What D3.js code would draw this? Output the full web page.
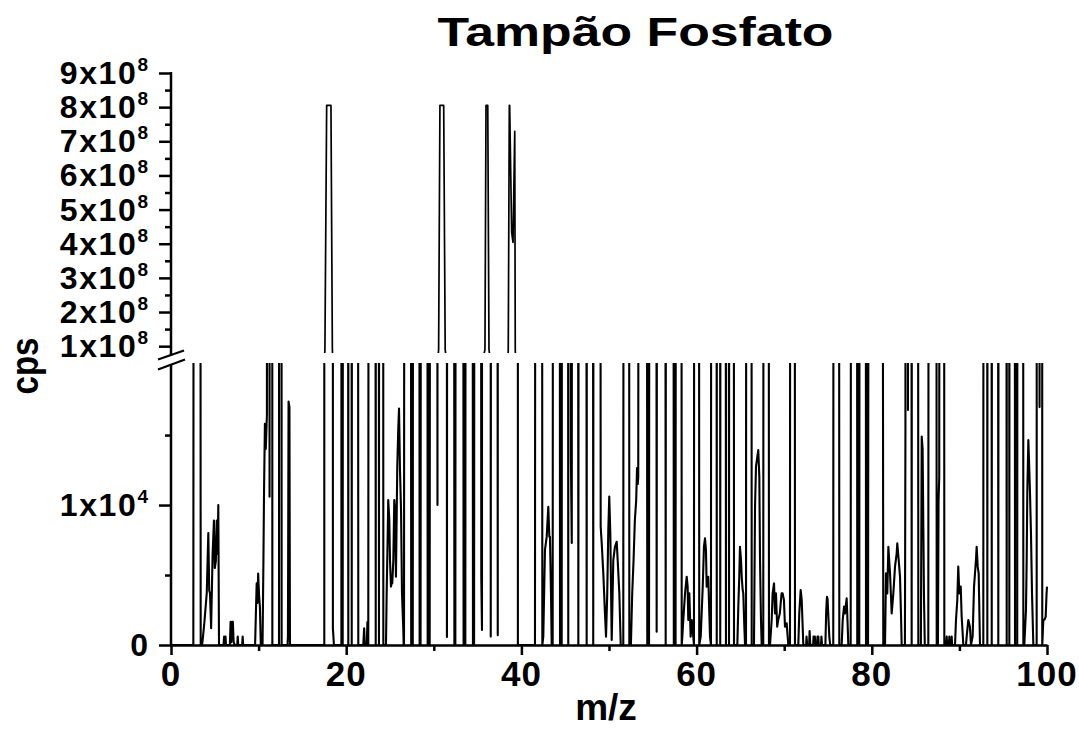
<!DOCTYPE html>
<html><head><meta charset="utf-8">
<script src="https://cdn.jsdelivr.net/npm/d3@7"></script>
<style>
body{margin:0;background:#fff}
svg{display:block}
text{font-family:"Liberation Sans",Arial,Helvetica,sans-serif;font-weight:bold;fill:#000}
</style></head>
<body><svg id="c" width="1079" height="729"></svg>
<script>
// ---- data ----
const xMajorTicks = [0, 20, 40, 60, 80, 100];
const xMinorTicks = [10, 30, 50, 70, 90];
const topMajorTicks = [1, 2, 3, 4, 5, 6, 7, 8, 9];          // x10^8
const topMinorTicks = [1.5, 2.5, 3.5, 4.5, 5.5, 6.5, 7.5, 8.5]; // x10^8
const bottomMajorTicks = [0, 10000];
const bottomMinorTicks = [5000, 15000];
const titleText = "Tampão Fosfato";
const xLabel = "m/z";
const yLabel = "cps";

// spectrum trace: [m/z, cps]
const spectrum = [
[0,0],[2.5,0],
[2.55,0],[2.97,500000],[3.39,0],
[3.55,0],[3.62,400],[3.8,1550],[4.08,3700],[4.26,8000],[4.36,3900],[4.45,3700],[4.58,1200],[4.75,6500],[4.9,8900],[5.0,5500],[5.12,6000],[5.22,8900],[5.32,6500],[5.4,10000],[5.48,0],
[6.0,0],[6.06,600],[6.12,0],[6.22,600],[6.28,0],[6.72,0],[6.8,1650],[6.88,200],[6.98,1650],[7.06,1650],[7.15,200],[7.28,0],[7.56,0],[7.62,600],[7.68,0],[8.12,0],[8.18,600],[8.24,0],
[9.6,0],[9.7,2500],[9.78,4400],[9.86,3000],[9.95,5100],[10.05,3600],[10.15,2700],[10.25,0],
[10.45,0],[10.55,6000],[10.62,11000],[10.72,15800],[10.82,14000],[10.95,16500],[11.05,500000],[11.25,10600],[11.4,500000],[11.57,0],
[12.33,0],[12.48,500000],[12.63,0],
[13.3,0],[13.35,600],[13.42,17400],[13.52,17000],[13.58,0],
[17.5,0],[17.57,90000000],[17.77,805000000],[18.26,805000000],[18.42,90000000],[18.48,1190],[18.6,0],
[19.45,0],[19.52,500000],[19.6,0],[19.9,500000],[20.24,0],[20.43,500000],[20.63,0],[21.0,500000],[21.38,0],
[21.95,0],[22.05,1200],[22.12,0],[22.35,0],[22.42,1640],[22.48,0],
[22.52,0],[22.95,500000],[23.37,0],[23.55,500000],[23.74,0],[24.0,500000],[24.24,0],
[24.54,0],[24.62,3690],[24.74,7980],[24.8,10360],[24.92,8930],[25.0,6070],[25.11,4170],[25.19,4410],[25.26,4410],[25.38,6070],[25.49,10360],[25.57,9640],[25.68,4880],[25.83,12740],[25.95,15600],[26.03,16900],[26.14,12500],[26.26,9640],[26.37,3690],[26.52,1070],[26.56,0],
[26.6,0],[27.0,500000],[27.42,0],[27.5,500000],[27.6,0],[28.0,500000],[28.38,0],[28.44,500000],[28.49,0],[28.9,500000],[29.3,0],[29.42,500000],[29.53,0],[30.0,500000],
[30.42,10000],[30.55,90000000],[30.7,805000000],[31.13,805000000],[31.3,90000000],[31.5,570],
[31.9,500000],[32.35,0],[32.4,500000],[32.46,0],[32.9,500000],[33.4,0],[33.5,500000],[33.6,0],[34.0,500000],[34.47,0],[34.53,500000],[34.6,0],[35.0,500000],
[35.42,4880],[35.5,1070],[35.84,90000000],[35.96,805000000],[36.16,805000000],[36.3,90000000],[36.5,600],[36.9,500000],[37.3,700],
[37.6,50000000],[38.45,50000000],[38.5,90000000],[38.62,805000000],[38.66,805000000],[38.89,433000000],[39.04,404000000],[39.24,729000000],[39.3,90000000],[39.35,50000000],[39.6,0],
[41.55,0],[42.0,500000],[42.39,0],
[42.5,600],[42.69,6790],[42.89,7740],[43.07,9880],[43.19,7740],[43.26,7740],[43.38,3690],[43.46,0],
[43.57,0],[44.0,500000],[44.41,0],[44.5,500000],[44.6,0],[45.0,500000],[45.35,0],[45.5,500000],[45.65,13450],[45.75,7290],[46.1,500000],[46.5,0],[47.0,500000],[47.45,0],[47.8,500000],[48.2,0],[48.6,500000],
[49.05,8450],[49.17,7260],[49.35,5120],[49.54,2260],[49.66,600],[49.8,3690],[49.92,8210],[50.03,10600],[50.15,7980],[50.31,360],[50.49,6070],[50.68,7020],[50.88,7380],[50.99,6070],[51.18,3690],[51.34,0],
[51.63,0],[52.0,500000],[52.32,0],
[52.5,0],[52.65,3700],[52.8,6000],[52.95,8900],[53.1,10300],[53.2,12640],[53.28,11500],[53.34,12000],[53.8,500000],[54.37,0],[54.47,500000],[54.57,0],[55.0,500000],[55.44,950],[56.0,500000],[56.47,0],[56.9,500000],[57.4,0],[57.5,500000],[57.6,0],[57.95,500000],[58.3,0],
[58.37,600],[58.48,1790],[58.68,3690],[58.87,4880],[58.98,4170],[59.05,1790],[59.17,3690],[59.32,600],[59.44,1790],[59.62,600],
[59.7,0],[60.0,500000],[60.3,0],
[60.47,600],[60.7,4170],[60.84,7020],[60.96,7620],[61.07,6790],[61.15,4170],[61.33,4880],[61.53,600],
[61.64,0],[62.0,500000],[62.3,0],[62.5,500000],[62.7,0],[63.0,500000],[63.35,0],[63.52,500000],[63.7,0],[64.0,500000],[64.27,0],
[64.65,0],[64.76,2740],[64.87,4880],[64.95,7020],[65.07,6070],[65.15,4880],[65.26,3930],[65.33,3690],[65.45,1310],[65.53,0],
[65.64,0],[66.0,500000],[66.29,0],
[66.55,0],[66.67,9880],[66.78,12740],[66.93,13450],[67.04,13930],[67.16,12020],[67.24,6070],[67.35,1790],[67.43,0],
[67.61,0],[67.95,500000],[68.26,0],
[68.38,0],[68.57,1790],[68.68,3690],[68.84,4400],[68.95,2260],[69.06,3690],[69.2,1310],[69.32,1790],[69.5,2260],[69.7,3690],[69.82,3690],[69.97,3210],[70.09,1310],[70.28,1550],[70.47,0],
[70.66,0],[70.95,500000],[71.23,0],
[71.61,0],[71.72,2260],[71.88,3930],[72.0,3210],[72.11,1310],[72.18,0],
[72.5,0],[72.55,600],[72.62,0],[72.85,0],[72.9,1000],[72.98,0],[73.3,0],[73.35,600],[73.5,600],[73.55,0],[73.75,0],[73.8,600],[73.9,600],[73.95,0],[74.2,0],[74.25,600],[74.32,0],
[74.7,0],[74.8,2500],[74.88,3450],[74.95,3300],[75.05,1900],[75.15,600],[75.25,0],
[75.6,0],[75.95,500000],[76.29,0],
[76.56,0],[76.68,1790],[76.83,2740],[76.94,2260],[77.13,3330],[77.25,1310],[77.32,0],
[77.59,0],[78.0,500000],[78.34,0],[78.45,500000],[78.57,0],[79.0,500000],[79.34,0],[79.45,500000],[79.57,0],[80.4,500000],[81.31,0],
[81.51,0],[81.62,5120],[81.77,3690],[81.89,7020],[82.08,5120],[82.27,2260],[82.46,3690],[82.65,5600],[82.84,6550],[82.91,7260],[83.07,6070],[83.22,4880],[83.33,2260],[83.41,0],
[83.78,0],[83.84,15400],[83.95,500000],[84.13,16800],[84.3,500000],[84.55,0],[84.9,500000],[85.31,0],
[85.6,0],[85.7,14900],[85.8,14000],[85.9,7300],[85.95,3700],[86.05,0],
[86.45,0],[86.9,500000],[87.41,0],[87.55,0],[87.62,10360],[87.7,12000],[87.95,500000],[88.28,0],
[88.5,0],[88.55,600],[88.6,0],[88.8,0],[88.85,600],[88.9,0],[89.07,0],[89.12,600],[89.17,0],
[89.5,0],[89.61,1790],[89.76,3210],[89.87,5600],[89.99,3690],[90.15,4170],[90.26,2020],[90.45,0],
[90.75,0],[90.83,600],[91.02,1790],[91.2,1310],[91.32,0],
[91.51,600],[91.67,4170],[91.78,5120],[91.89,6070],[91.97,7020],[92.09,5600],[92.2,5120],[92.35,0],
[92.73,0],[92.95,500000],[93.19,0],[93.45,500000],[93.69,0],[94.05,500000],[94.44,0],[94.9,500000],[95.4,0],[95.55,500000],[95.7,0],[96.0,500000],[96.35,0],[96.47,500000],[96.6,0],[96.95,500000],[97.3,0],
[97.41,0],[97.6,2500],[97.68,6070],[97.75,10840],[97.87,14640],[97.98,12500],[98.06,10840],[98.17,7980],[98.29,3690],[98.44,0],
[98.82,0],[98.95,500000],[99.15,17000],[99.3,500000],[99.46,0],
[99.58,1790],[99.7,1800],[99.85,2020],[99.95,3700],[100,4170]
];

// ---- layout ----
const svg = d3.select("#c");
const x = d3.scaleLinear().domain([0, 100]).range([171, 1047]);
const yTop = d3.scaleLinear().domain([0.8e8, 9e8]).range([353, 73]);
const yBot = d3.scaleLinear().domain([0, 20150]).range([645, 363]);

const defs = svg.append("defs");
defs.append("clipPath").attr("id","clipTop").append("rect")
  .attr("x", x(0)).attr("y", 40).attr("width", x(100)-x(0)+2).attr("height", yTop(0.8e8)-40);
defs.append("clipPath").attr("id","clipBot").append("rect")
  .attr("x", x(0)).attr("y", yBot(20150)).attr("width", x(100)-x(0)+2).attr("height", yBot(0)-yBot(20150));

const lineTop = d3.line().x(d => x(d[0])).y(d => yTop(Math.max(d[1], 0.5e8)));
const lineBot = d3.line().x(d => x(d[0])).y(d => yBot(Math.min(d[1], 2e6)));

svg.append("path").datum(spectrum).attr("clip-path","url(#clipTop)")
  .attr("d", lineTop).attr("fill","none").attr("stroke","#000")
  .attr("stroke-width",1.7).attr("stroke-linejoin","round");
svg.append("path").datum(spectrum).attr("clip-path","url(#clipBot)")
  .attr("d", lineBot).attr("fill","none").attr("stroke","#000")
  .attr("stroke-width",2.1).attr("stroke-linejoin","round");

// ---- axes ----
function styleAxis(g){
  g.selectAll("path,line").attr("stroke","#000").attr("stroke-width",2.5);
  g.selectAll("text").remove();
}
const AX = x(0);

// X axis
const gx = svg.append("g").attr("transform",`translate(0,${yBot(0)})`);
gx.call(d3.axisBottom(x).tickValues(xMajorTicks).tickSize(10).tickSizeOuter(0).tickFormat(""));
styleAxis(gx);
const gxm = svg.append("g").attr("transform",`translate(0,${yBot(0)})`);
gxm.call(d3.axisBottom(x).tickValues(xMinorTicks).tickSize(6).tickFormat(""));
gxm.select(".domain").remove(); styleAxis(gxm);

svg.append("g").selectAll("text").data(xMajorTicks).join("text")
  .attr("x", d => x(d)).attr("y", yBot(0) + 41)
  .attr("text-anchor","middle").attr("font-size",35).attr("letter-spacing",1).text(d => d);

// top Y axis
const gyt = svg.append("g").attr("transform",`translate(${AX},0)`);
gyt.call(d3.axisLeft(yTop).tickValues(topMajorTicks.map(v => v*1e8)).tickSize(12).tickSizeOuter(0).tickFormat(""));
gyt.select(".domain").remove(); styleAxis(gyt);
const gytm = svg.append("g").attr("transform",`translate(${AX},0)`);
gytm.call(d3.axisLeft(yTop).tickValues(topMinorTicks.map(v => v*1e8)).tickSize(6).tickFormat(""));
gytm.select(".domain").remove(); styleAxis(gytm);
svg.append("line").attr("x1",AX).attr("x2",AX).attr("y1",yTop(9e8)-1).attr("y2",yTop(0.8e8)+2)
  .attr("stroke","#000").attr("stroke-width",2.5);

const tl = svg.append("g").selectAll("text").data(topMajorTicks).join("text")
  .attr("x", 148).attr("y", d => yTop(d*1e8) + 11)
  .attr("text-anchor","end").attr("font-size",32);
tl.append("tspan").attr("letter-spacing",1.6).text(d => d + "x10");
tl.append("tspan").attr("font-size",19).attr("dy",-13).text("8");

// bottom Y axis
const gyb = svg.append("g").attr("transform",`translate(${AX},0)`);
gyb.call(d3.axisLeft(yBot).tickValues(bottomMajorTicks).tickSize(12).tickSizeOuter(0).tickFormat(""));
gyb.select(".domain").remove(); styleAxis(gyb);
const gybm = svg.append("g").attr("transform",`translate(${AX},0)`);
gybm.call(d3.axisLeft(yBot).tickValues(bottomMinorTicks).tickSize(6).tickFormat(""));
gybm.select(".domain").remove(); styleAxis(gybm);
svg.append("line").attr("x1",AX).attr("x2",AX).attr("y1",yBot(20150)+1.5).attr("y2",yBot(0))
  .attr("stroke","#000").attr("stroke-width",2.5);

const bl = svg.append("g").selectAll("text").data(bottomMajorTicks).join("text")
  .attr("x", 148).attr("y", d => yBot(d) + 11)
  .attr("text-anchor","end").attr("font-size",32);
bl.each(function(d){
  const t = d3.select(this);
  if (d === 0) { t.text("0"); }
  else {
    t.append("tspan").attr("letter-spacing",1.6).text((d/10000) + "x10");
    t.append("tspan").attr("font-size",19).attr("dy",-13).text("4");
  }
});

// axis break marks
const brk = svg.append("g").attr("stroke","#000").attr("stroke-width",2.2);
brk.append("line").attr("x1",158).attr("y1",359.5).attr("x2",184).attr("y2",350.5);
brk.append("line").attr("x1",158).attr("y1",369.5).attr("x2",185).attr("y2",359.5);

// titles
svg.append("text").attr("x",635.5).attr("y",46).attr("text-anchor","middle")
  .attr("font-size",40).attr("textLength",396).attr("lengthAdjust","spacingAndGlyphs").text(titleText);
svg.append("text").attr("x",606).attr("y",720).attr("text-anchor","middle")
  .attr("font-size",37).text(xLabel);
svg.append("text").attr("transform","translate(38,366) rotate(-90)").attr("text-anchor","middle")
  .attr("font-size",38).attr("textLength",57).attr("lengthAdjust","spacingAndGlyphs").text(yLabel);
</script>
</body></html>
